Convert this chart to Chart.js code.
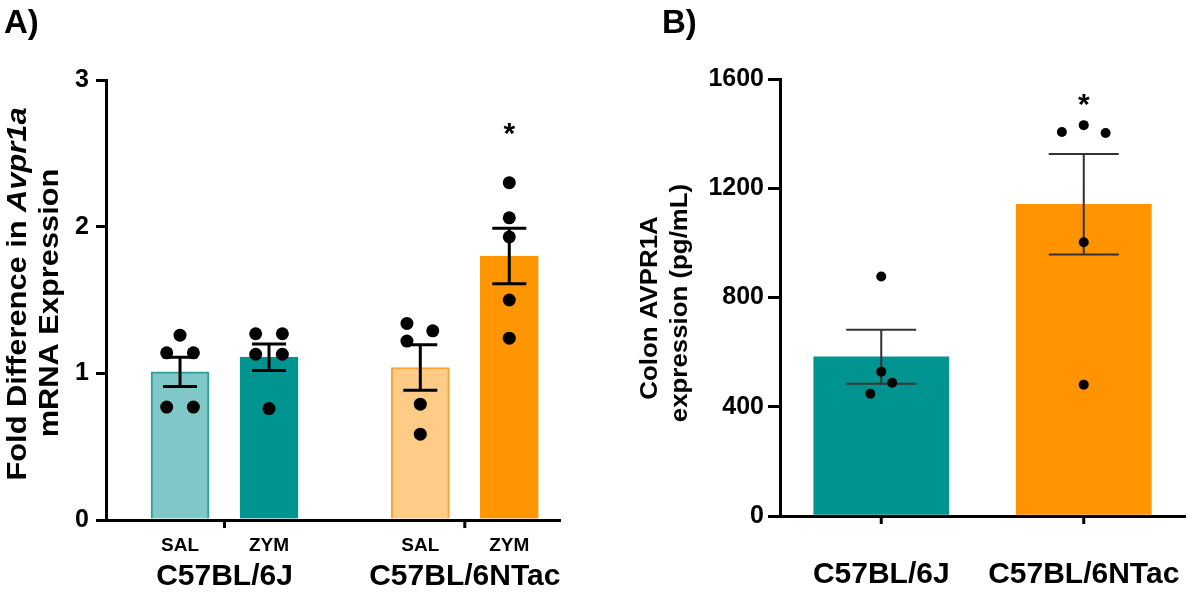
<!DOCTYPE html>
<html>
<head>
<meta charset="utf-8">
<script src="https://cdn.jsdelivr.net/npm/chart.js@4.4.1/dist/chart.umd.min.js"></script>
<style>
  body { margin: 0; background: #fff; width: 1200px; height: 596px; position: relative; overflow: hidden;
         font-family: "Liberation Sans", Arial, sans-serif; }
  .wrap { position: absolute; top: 0; height: 596px; }
  #wrapA { left: 0; width: 580px; }
  #wrapB { left: 600px; width: 600px; }
  .tag { position: absolute; top: 2px; font-weight: bold; font-size: 33px; line-height: 40px; color: #000; }
</style>
</head>
<body>
<div class="wrap" id="wrapA"><canvas id="chartA" width="580" height="596"></canvas></div>
<div class="wrap" id="wrapB"><canvas id="chartB" width="600" height="596"></canvas></div>
<div class="tag" style="left:4px">A)</div>
<div class="tag" style="left:662px">B)</div>
<script>
// ---- panel A data (fold difference, mean +/- SEM with individual animals)
const treatA = ["SAL", "ZYM", "SAL", "ZYM"];
const strainsA = ["C57BL/6J", "C57BL/6NTac"];
const meanA = [1.01, 1.11, 1.04, 1.80];
const semA = [0.10, 0.09, 0.155, 0.19];
const pointsA = [
  [1.26, 1.14, 1.14, 0.77, 0.77],
  [1.27, 1.27, 1.13, 1.13, 0.76],
  [1.34, 1.29, 1.22, 0.79, 0.585],
  [2.30, 2.06, 1.93, 1.50, 1.24]
];
const jitterA = [
  [0, -0.15, 0.15, -0.15, 0.15],
  [-0.15, 0.15, -0.15, 0.15, 0],
  [-0.15, 0.14, -0.15, 0, 0],
  [0, 0, 0, 0, 0]
];
const sigA = ["", "", "", "*"];
const ticksA = [0, 1, 2, 3];

// ---- panel B data (colon AVPR1A, pg/mL)
const strainsB = ["C57BL/6J", "C57BL/6NTac"];
const meanB = [583, 1141];
const semB = [99, 184];
const pointsB = [
  [877, 528, 488, 448],
  [1406, 1431, 1402, 1002, 481]
];
const jitterB = [
  [0, 0, 0.054, -0.054],
  [-0.108, 0, 0.108, 0, 0]
];
const sigB = ["", "*"];
const ticksB = [0, 400, 800, 1200, 1600];

const FONT = '"Liberation Sans", Arial, sans-serif';
Chart.defaults.font.family = FONT;
Chart.defaults.color = '#000';

// x position of bar i in panel A (two bars per strain, gap between strains)
const xOfA = i => i + 1 + (i >= 2 ? 0.7 : 0);
const xOfB = i => i + 1;

function scatterData(points, jitter, xOf) {
  const out = [];
  points.forEach((vals, i) => vals.forEach((v, j) => out.push({ x: xOf(i) + jitter[i][j], y: v })));
  return out;
}

// error bars drawn right after the bars, before the dots
const errorBars = {
  id: 'errorBars',
  afterDatasetDraw(chart, args, opts) {
    if (args.meta.type !== 'bar') return;
    const { ctx, scales: { x, y } } = chart;
    ctx.save();
    ctx.strokeStyle = opts.color;
    ctx.lineWidth = opts.width;
    opts.mean.forEach((m, i) => {
      const px = x.getPixelForValue(opts.xOf(i));
      const top = y.getPixelForValue(m + opts.sem[i]);
      const bot = y.getPixelForValue(m - opts.sem[i]);
      ctx.beginPath();
      ctx.moveTo(px, top); ctx.lineTo(px, bot);
      ctx.moveTo(px - opts.cap, top); ctx.lineTo(px + opts.cap, top);
      ctx.moveTo(px - opts.cap, bot); ctx.lineTo(px + opts.cap, bot);
      ctx.stroke();
    });
    ctx.restore();
  }
};

// titles, strain labels, group ticks and significance stars
const extras = {
  id: 'extras',
  afterDraw(chart, args, o) {
    const { ctx, chartArea, scales: { x, y } } = chart;
    ctx.save();
    ctx.fillStyle = '#000';
    ctx.strokeStyle = '#000';

    // y axis title, rotated, two lines, segments may be italic
    o.titleLines.forEach((segs, li) => {
      ctx.save();
      ctx.translate(o.titleX[li], o.titleY[li]);
      ctx.rotate(-Math.PI / 2);
      ctx.scale(1.1, 1);
      ctx.textBaseline = 'middle';
      ctx.textAlign = 'left';
      let total = 0;
      segs.forEach(s => {
        ctx.font = (s.italic ? 'italic ' : '') + 'bold ' + o.titleSize + 'px ' + FONT;
        total += ctx.measureText(s.text).width;
      });
      let cx = -total / 2;
      segs.forEach(s => {
        ctx.font = (s.italic ? 'italic ' : '') + 'bold ' + o.titleSize + 'px ' + FONT;
        ctx.fillText(s.text, cx, 0);
        cx += ctx.measureText(s.text).width;
      });
      ctx.restore();
    });

    // strain groups under the axis
    ctx.lineWidth = 3;
    ctx.font = 'bold 30px ' + FONT;
    ctx.textAlign = 'center';
    ctx.textBaseline = 'middle';
    o.groups.forEach((g, gi) => {
      const px = x.getPixelForValue(o.groupAt(gi));
      ctx.beginPath();
      ctx.moveTo(px, chartArea.bottom);
      ctx.lineTo(px, chartArea.bottom + 8);
      ctx.stroke();
      ctx.fillText(g, px, o.groupY);
    });

    // significance stars
    ctx.font = 'bold 30px ' + FONT;
    o.sig.forEach((s, i) => {
      if (!s) return;
      ctx.fillText(s, x.getPixelForValue(o.xOf(i)), y.getPixelForValue(o.sigLevel) + 8);
    });
    ctx.restore();
  }
};

// ---------------- panel A
new Chart(document.getElementById('chartA'), {
  type: 'bar',
  data: {
    datasets: [
      {
        type: 'scatter',
        data: scatterData(pointsA, jitterA, xOfA),
        backgroundColor: '#000',
        borderWidth: 0,
        pointRadius: 6.5,
        order: 1
      },
      {
        type: 'bar',
        data: meanA.map((m, i) => ({ x: xOfA(i), y: m })),
        backgroundColor: ['#80c8c8', '#009490', '#ffcc88', '#ff9500'],
        borderColor: ['#2a9e9c', '#009490', '#ffa030', '#ff9500'],
        borderWidth: 2,
        barThickness: 58,
        order: 2
      }
    ]
  },
  options: {
    responsive: false,
    animation: false,
    events: [],
    layout: { padding: { top: 80, right: 20, left: 0, bottom: 0 } },
    plugins: {
      legend: { display: false },
      tooltip: { enabled: false },
      errorBars: { mean: meanA, sem: semA, xOf: xOfA, color: '#000', width: 3, cap: 17 },
      extras: {
        titleLines: [
          [{ text: 'Fold Difference in ' }, { text: 'Avpr1a', italic: true }],
          [{ text: 'mRNA Expression' }]
        ],
        titleX: [18, 50], titleY: [294, 303], titleSize: 28,
        groups: strainsA, groupAt: gi => (xOfA(gi * 2) + xOfA(gi * 2 + 1)) / 2, groupY: 577,
        xOf: xOfA, sig: sigA, sigLevel: 2.68
      }
    },
    scales: {
      x: {
        type: 'linear',
        offset: false,
        min: 0.168,
        max: 5.27,
        afterBuildTicks: s => { s.ticks = treatA.map((t, i) => ({ value: xOfA(i) })); },
        ticks: {
          callback: (v, i) => treatA[i],
          font: { size: 19, weight: 'bold' },
          color: '#000',
          padding: 14,
          maxRotation: 0,
          autoSkip: false
        },
        grid: { display: false, drawTicks: false, offset: false },
        border: { color: '#000', width: 3 },
        afterFit: s => { s.height = 76; }
      },
      y: {
        min: 0,
        max: 3,
        afterBuildTicks: s => { s.ticks = ticksA.map(v => ({ value: v })); },
        ticks: { font: { size: 25, weight: 'bold' }, color: '#000', padding: 7, callback: v => String(v) },
        grid: { drawOnChartArea: false, color: '#000', lineWidth: 3, tickLength: 10 },
        border: { color: '#000', width: 3 },
        afterFit: s => { s.width = 106; }
      }
    }
  },
  plugins: [errorBars, extras]
});

// ---------------- panel B
new Chart(document.getElementById('chartB'), {
  type: 'bar',
  data: {
    datasets: [
      {
        type: 'scatter',
        data: scatterData(pointsB, jitterB, xOfB),
        backgroundColor: '#000',
        borderWidth: 0,
        pointRadius: 5,
        order: 1
      },
      {
        type: 'bar',
        data: meanB.map((m, i) => ({ x: xOfB(i), y: m })),
        backgroundColor: ['#009490', '#ff9400'],
        barThickness: 135,
        order: 2
      }
    ]
  },
  options: {
    responsive: false,
    animation: false,
    events: [],
    layout: { padding: { top: 79, right: 15, left: 0, bottom: 0 } },
    plugins: {
      legend: { display: false },
      tooltip: { enabled: false },
      errorBars: { mean: meanB, sem: semB, xOf: xOfB, color: '#333', width: 2, cap: 35 },
      extras: {
        titleLines: [
          [{ text: 'Colon AVPR1A' }],
          [{ text: 'expression (pg/mL)' }]
        ],
        titleX: [51, 81], titleY: [308, 303], titleSize: 23.5,
        groups: strainsB, groupAt: gi => xOfB(gi), groupY: 575,
        xOf: xOfB, sig: sigB, sigLevel: 1530
      }
    },
    scales: {
      x: {
        type: 'linear',
        offset: false,
        min: 0.5,
        max: 2.5,
        afterBuildTicks: s => { s.ticks = strainsB.map((t, i) => ({ value: xOfB(i) })); },
        ticks: { display: false },
        grid: { display: false, drawTicks: false, offset: false },
        border: { color: '#000', width: 3 },
        afterFit: s => { s.height = 80; }
      },
      y: {
        min: 0,
        max: 1600,
        afterBuildTicks: s => { s.ticks = ticksB.map(v => ({ value: v })); },
        ticks: { font: { size: 25, weight: 'bold' }, color: '#000', padding: 4, callback: v => String(v) },
        grid: { drawOnChartArea: false, color: '#000', lineWidth: 3, tickLength: 12 },
        border: { color: '#000', width: 3 },
        afterFit: s => { s.width = 180; }
      }
    }
  },
  plugins: [errorBars, extras]
});
</script>
</body>
</html>
